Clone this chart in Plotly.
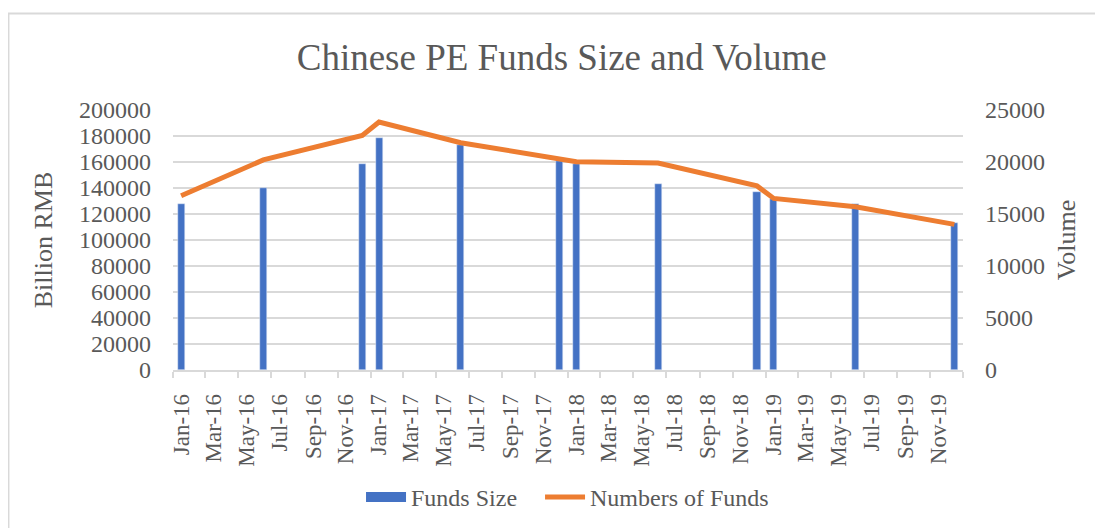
import pandas as pd
import plotly.graph_objects as go

# ---- data ----
months = ["2016-01", "2016-06", "2016-12", "2017-01", "2017-06", "2017-12",
          "2018-01", "2018-06", "2018-12", "2019-01", "2019-06", "2019-12"]
funds_size = [128000, 140000, 158500, 178700, 173000, 161000,
              158500, 142800, 137200, 131500, 127700, 113300]
num_funds = [16750, 20200, 22550, 23850, 21850, 20300,
             20030, 19900, 17700, 16500, 15700, 14000]

title_text = "Chinese PE Funds Size and Volume"
left_title = "Billion RMB"
right_title = "Volume"
tick_months = pd.date_range("2016-01-01", "2019-11-01", freq="2MS")

# ---- styling ----
FONT = "Liberation Serif, Times New Roman, serif"
GREY = "#595959"
GRID = "#d9d9d9"
BLUE = "#4472C4"
ORANGE = "#ED7D31"
PAD = "\u00a0" * 3

x_mid = pd.to_datetime(months) + pd.Timedelta(days=15)
tick_mid = tick_months + pd.Timedelta(days=15)
DAY_MS = 86400000

fig = go.Figure()
fig.add_trace(go.Bar(
    x=x_mid, y=funds_size, name="Funds Size", marker_color=BLUE,
    width=13 * DAY_MS, showlegend=False, legendgroup="fs",
))
# legend entry drawn as a wide block like the original
fig.add_trace(go.Scatter(
    x=[None], y=[None], mode="lines", name="Funds Size" + PAD,
    line=dict(color=BLUE, width=12), legendgroup="fs",
))
fig.add_trace(go.Scatter(
    x=x_mid, y=num_funds, name="Numbers of Funds", mode="lines",
    line=dict(color=ORANGE, width=5), yaxis="y2",
))

fig.update_layout(
    width=1103, height=528,
    margin=dict(l=165, r=148, t=102, b=166),
    paper_bgcolor="white", plot_bgcolor="white",
    font=dict(family=FONT, color=GREY, size=24),
    title=dict(text=title_text, x=0.502, xanchor="center", y=0.907,
               yanchor="middle", font=dict(size=37, color=GREY, family=FONT)),
    showlegend=True,
    legend=dict(orientation="h", x=0.4994, xanchor="center", y=-0.49,
                yanchor="middle", font=dict(size=24, color=GREY, family=FONT),
                itemwidth=40, bgcolor="rgba(0,0,0,0)"),
    bargap=0,
    xaxis=dict(
        type="date", range=["2016-01-01", "2020-01-01"],
        tickmode="array", tickvals=tick_mid, tickformat="%b-%y",
        tickangle=-90, ticks="", showgrid=False,
        showline=True, linecolor=GRID, linewidth=1.5,
        ticklabelstandoff=13,
        tickfont=dict(size=23, color=GREY, family=FONT),
        minor=dict(ticks="outside", ticklen=6, tickcolor=GRID, tickwidth=1.5,
                   tick0="2016-01-01", dtick="M2", showgrid=False),
    ),
    yaxis=dict(
        range=[0, 200000], dtick=20000, tickformat="d",
        showgrid=True, gridcolor=GRID,
        gridwidth=1.5, zeroline=False, ticks="", ticklabelstandoff=21,
        tickfont=dict(size=24, color=GREY, family=FONT),
        title=dict(text=left_title, font=dict(size=26, color=GREY, family=FONT),
                   standoff=18),
    ),
    yaxis2=dict(
        range=[0, 25000], dtick=5000, tickformat="d",
        overlaying="y", side="right",
        showgrid=False, zeroline=False, ticks="", ticklabelstandoff=21,
        tickfont=dict(size=24, color=GREY, family=FONT),
        title=dict(text=right_title, font=dict(size=26, color=GREY, family=FONT),
                   standoff=12),
    ),
    shapes=[dict(type="rect", xref="paper", yref="paper",
                 x0=-0.2083, x1=1.3, y0=-0.7, y1=1.371,
                 line=dict(color=GRID, width=2), layer="below")],
)

fig.write_html("out.html")
